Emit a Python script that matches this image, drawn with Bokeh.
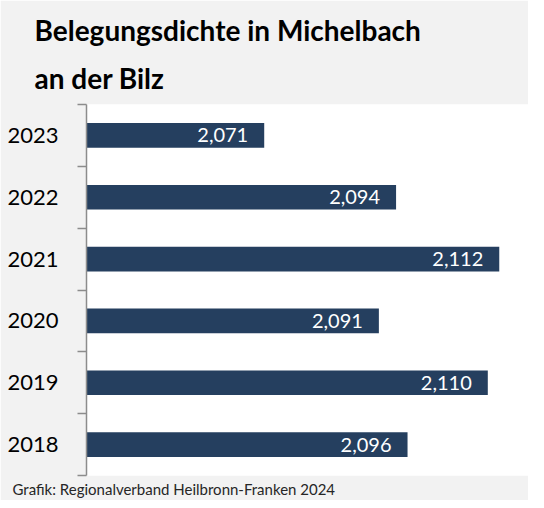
from bokeh.plotting import figure
from bokeh.models import Range1d, FixedTicker, Title
from bokeh.core.properties import value
from bokeh.embed import file_html
from bokeh.resources import INLINE

# Data
years = ["2018", "2019", "2020", "2021", "2022", "2023"]
density = [2.096, 2.110, 2.091, 2.112, 2.094, 2.071]
value_labels = [f"{v:.3f}".replace(".", ",") for v in density]
title_lines = ["Belegungsdichte in Michelbach", "an der Bilz"]
source_note = "Grafik: Regionalverband Heilbronn-Franken 2024"

x_start = 2.04
ypos = [i + 0.5 for i in range(len(years))]

p = figure(width=528, height=500, output_backend="svg", toolbar_location=None,
           x_range=Range1d(x_start, 2.1171), y_range=Range1d(0, len(years)),
           x_axis_location=None,
           min_border_left=86, min_border_right=0, min_border_top=104, min_border_bottom=23)

p.background_fill_color = "white"
p.border_fill_color = "#f2f2f2"
p.outline_line_color = None
p.xgrid.visible = False
p.ygrid.visible = False

p.hbar(y=ypos, left=x_start, right=density, height=0.4, fill_color="#253f5f", line_color=None)
p.text(x=density, y=ypos, text=value_labels, text_align="right", text_baseline="middle",
       x_offset=-16, text_color="white", text_font=value("Lato"), text_font_size="20px")

ax = p.yaxis[0]
ax.ticker = FixedTicker(ticks=ypos, minor_ticks=list(range(len(years) + 1)))
ax.major_label_overrides = {yp: yr for yp, yr in zip(ypos, years)}
ax.major_tick_line_color = None
ax.major_tick_out = 0
ax.major_tick_in = 0
ax.minor_tick_out = 9
ax.minor_tick_in = 0
ax.minor_tick_line_color = "#8c8c8c"
ax.minor_tick_line_width = 1.5
ax.axis_line_color = "#8c8c8c"
ax.axis_line_width = 1.5
ax.major_label_text_font = "Lato"
ax.major_label_text_font_size = "22px"
ax.major_label_text_color = "black"
ax.major_label_standoff = 19

t2 = Title(text=title_lines[1], align="left", offset=-52, standoff=19,
           text_font="Lato", text_font_size="28px", text_font_style="bold", text_color="black")
t1 = Title(text=title_lines[0], align="left", offset=-52, standoff=5,
           text_font="Lato", text_font_size="28px", text_font_style="bold", text_color="black")
p.add_layout(t2, "above")
p.add_layout(t1, "above")

foot = Title(text=source_note, align="left", offset=-74, standoff=5,
             text_font="Lato", text_font_size="15px", text_font_style="normal", text_color="#262626")
p.add_layout(foot, "below")

open("out.html", "w").write(file_html(p, INLINE))
